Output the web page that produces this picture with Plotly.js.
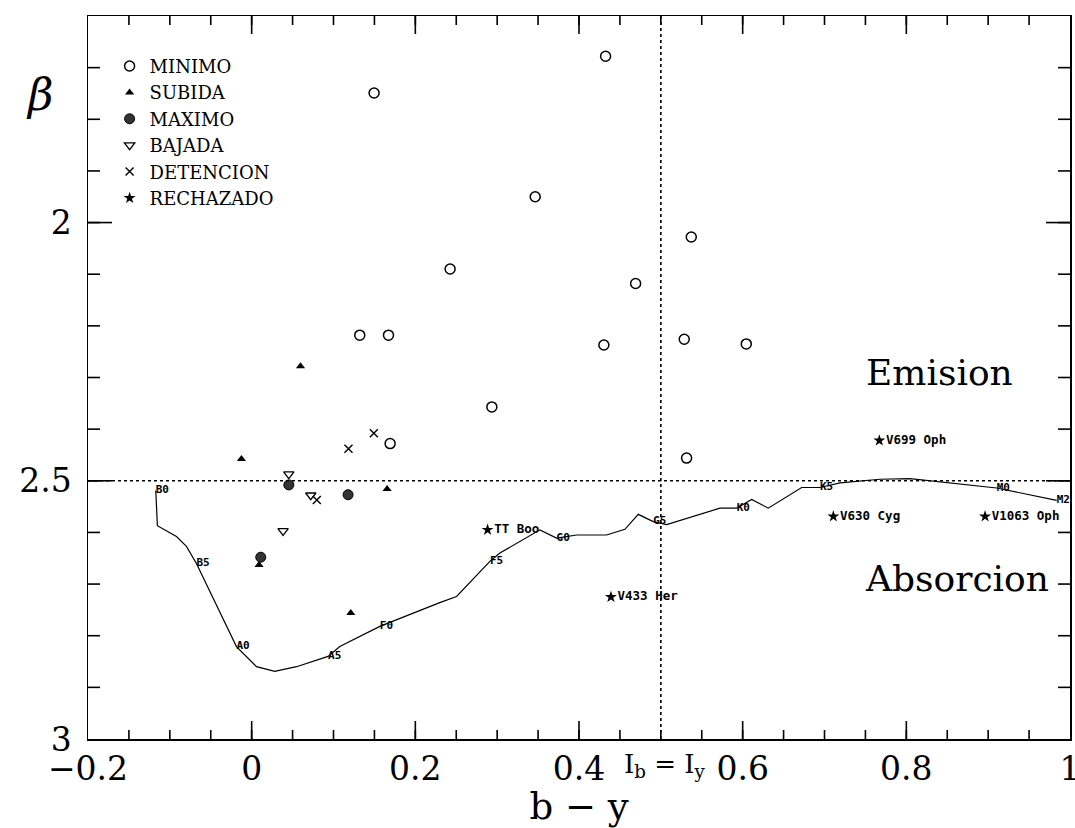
<!DOCTYPE html>
<html>
<head>
<meta charset="utf-8">
<script src="https://cdn.plot.ly/plotly-3.0.1.min.js"></script>
<style>html,body{margin:0;padding:0;background:#fff;}#chart{width:1075px;height:828px;}</style>
</head>
<body>
<div id="chart"></div>
<script>
// ---- data ----
const minimoX = [0.4325, 0.1496, 0.3465, 0.5372, 0.2425, 0.4692, 0.1321, 0.1672, 0.4304, 0.5286, 0.6044, 0.2935, 0.1692, 0.5315];
const minimoY = [1.678, 1.749, 1.950, 2.028, 2.090, 2.118, 2.218, 2.218, 2.237, 2.226, 2.235, 2.357, 2.428, 2.456];

const subidaX = [0.0597, -0.0125, 0.1655, 0.1211, 0.0090];
const subidaY = [2.278, 2.458, 2.516, 2.756, 2.663];

const maximoX = [0.0454, 0.1178, 0.0111];
const maximoY = [2.508, 2.527, 2.648];

const bajadaX = [0.0454, 0.0722, 0.0384];
const bajadaY = [2.487, 2.528, 2.597];

const detencionX = [0.1183, 0.1493, 0.0796];
const detencionY = [2.438, 2.408, 2.537];

const rechazadoName = ["TT Boo", "V433 Her", "V699 Oph", "V630 Cyg", "V1063 Oph"];
const rechazadoX = [0.2883, 0.4390, 0.7670, 0.7108, 0.8962];
const rechazadoY = [2.595, 2.725, 2.422, 2.569, 2.569];

// main-sequence calibration curve (b-y, beta) with spectral-type labels
const curveX = [-0.1172, -0.1152, -0.0919, -0.0797, -0.0675, -0.0186, 0.0059, 0.0282, 0.0548, 0.0934, 0.1077, 0.1566, 0.2299, 0.2504, 0.2911, 0.3033, 0.3522, 0.3726, 0.3971, 0.4337, 0.4561, 0.4724, 0.4907, 0.5071, 0.5722, 0.5927, 0.6110, 0.6313, 0.6721, 0.6945, 0.7190, 0.7678, 0.8045, 0.9105, 0.9838];
const curveY = [2.519, 2.587, 2.608, 2.627, 2.660, 2.821, 2.860, 2.869, 2.860, 2.840, 2.821, 2.782, 2.736, 2.724, 2.656, 2.640, 2.595, 2.611, 2.605, 2.605, 2.594, 2.565, 2.579, 2.585, 2.553, 2.553, 2.536, 2.553, 2.513, 2.513, 2.504, 2.497, 2.496, 2.514, 2.538];
const curveLabel = ["B0", "", "", "", "B5", "A0", "", "", "", "A5", "", "F0", "", "", "F5", "", "", "G0", "", "", "", "", "G5", "", "", "K0", "", "", "", "K5", "", "", "", "M0", "M2"];

const betaLimit = 2.5;   // emission / absorption boundary
const ibIy = 0.5;        // I_b = I_y

const xTickStep = 0.2, xMinorStep = 0.05;
const yTickStep = 0.5, yMinorStep = 0.1;
const xRange = [-0.2, 1.0];
const yRange = [3.0, 1.6];

// ---- styling ----
const serif = "DejaVu Serif";
const mono = "DejaVu Sans Mono";
const black = "#000";
const W = 1075, H = 828;
const M = {l: 88, r: 5, t: 16, b: 89};
const plotW = W - M.l - M.r, plotH = H - M.t - M.b;
const xPerPx = (xRange[1] - xRange[0]) / plotW;
const yPerPx = (yRange[0] - yRange[1]) / plotH;

// inside ticks on all four sides of the frame, built from the tick steps
function tickValues(lo, hi, step) {
  const out = [];
  const i0 = Math.ceil(lo / step - 1e-9), i1 = Math.floor(hi / step + 1e-9);
  for (let i = i0; i <= i1; i++) {
    const v = Math.round(i * step * 1e6) / 1e6;
    if (v > lo + 1e-9 && v < hi - 1e-9) out.push(v);
  }
  return out;
}
const tickX = [], tickY = [];
[[xMinorStep, 9], [xTickStep, 18]].forEach(function (spec) {
  tickValues(xRange[0], xRange[1], spec[0]).forEach(function (v) {
    tickX.push(v, v, null, v, v, null);
    tickY.push(yRange[0], yRange[0] - spec[1] * yPerPx, null, yRange[1], yRange[1] + spec[1] * yPerPx, null);
  });
});
[[yMinorStep, 12], [yTickStep, 24]].forEach(function (spec) {
  tickValues(yRange[1], yRange[0], spec[0]).forEach(function (v) {
    tickY.push(v, v, null, v, v, null);
    tickX.push(xRange[0], xRange[0] + spec[1] * xPerPx, null, xRange[1], xRange[1] - spec[1] * xPerPx, null);
  });
});

const traces = [
  {name: "ticks", x: tickX, y: tickY, type: "scatter", mode: "lines", showlegend: false,
   hoverinfo: "skip", connectgaps: false, line: {color: black, width: 1.6}},
  {name: "MINIMO", x: minimoX, y: minimoY, type: "scatter", mode: "markers",
   marker: {symbol: "circle-open", size: 10, color: black, line: {width: 1.5, color: black}}},
  {name: "SUBIDA", x: subidaX, y: subidaY, type: "scatter", mode: "markers",
   marker: {symbol: "triangle-up", size: 8, color: black}},
  {name: "MAXIMO", x: maximoX, y: maximoY, type: "scatter", mode: "markers",
   marker: {symbol: "circle", size: 10, color: "#333", line: {width: 1, color: black}}},
  {name: "BAJADA", x: bajadaX, y: bajadaY, type: "scatter", mode: "markers",
   marker: {symbol: "triangle-down-open", size: 9, color: black, line: {width: 1.3, color: black}}},
  {name: "DETENCION", x: detencionX, y: detencionY, type: "scatter", mode: "markers",
   marker: {symbol: "x-thin-open", size: 8, color: black, line: {width: 1.4, color: black}}},
  {name: "RECHAZADO", x: rechazadoX, y: rechazadoY, type: "scatter", mode: "markers",
   marker: {symbol: "star", size: 9, color: black}},
  {name: "rechazado-labels", x: rechazadoX, y: rechazadoY, text: rechazadoName, type: "scatter",
   mode: "markers+text", textposition: "middle right", showlegend: false,
   cliponaxis: false,
   marker: {size: 9, color: "rgba(0,0,0,0)"},
   textfont: {family: mono, size: 12.5, color: black, weight: "bold"}},
  {name: "curve", x: curveX, y: curveY, text: curveLabel, type: "scatter", mode: "lines+text",
   textposition: "middle right", showlegend: false, cliponaxis: false,
   line: {color: black, width: 1.2},
   textfont: {family: mono, size: 11, color: black, weight: "bold"}}
];

const layout = {
  width: W, height: H,
  margin: M,
  paper_bgcolor: "#fff", plot_bgcolor: "#fff",
  showlegend: true,
  legend: {x: 0.022, y: 0.956, xanchor: "left", yanchor: "top",
           bgcolor: "rgba(0,0,0,0)", borderwidth: 0,
           font: {family: serif, size: 18, color: black}, tracegroupgap: 0},
  xaxis: {range: xRange, autorange: false, dtick: xTickStep, tick0: 0,
          showgrid: false, zeroline: false, showline: true, linecolor: black, linewidth: 1.5,
          mirror: true, ticks: "",
          tickfont: {family: serif, size: 33, color: black}, ticklabeloverflow: "allow",
          title: {text: "b − y", font: {family: serif, size: 37, color: black}, standoff: 16}},
  yaxis: {range: yRange, autorange: false, dtick: yTickStep, tick0: 0,
          showgrid: false, zeroline: false, showline: true, linecolor: black, linewidth: 1.5,
          mirror: true, ticks: "",
          tickfont: {family: serif, size: 33, color: black}, ticksuffix: "\u2005", ticklabeloverflow: "allow"},
  shapes: [
    {type: "line", xref: "paper", x0: 0, x1: 1, yref: "y", y0: betaLimit, y1: betaLimit,
     line: {color: black, width: 1.6, dash: "dot"}},
    {type: "line", xref: "x", x0: ibIy, x1: ibIy, yref: "paper", y0: 0, y1: 1,
     line: {color: black, width: 1.6, dash: "dot"}}
  ],
  annotations: [
    {text: "β", xref: "paper", yref: "paper", x: -0.049, y: 0.891, xanchor: "center", yanchor: "middle",
     showarrow: false, font: {family: serif, size: 44, color: black, style: "italic"}},
    {text: "Emision", xref: "x", yref: "y", x: 0.841, y: 2.291, xanchor: "center", yanchor: "middle",
     showarrow: false, font: {family: serif, size: 36, color: black}},
    {text: "Absorcion", xref: "x", yref: "y", x: 0.862, y: 2.690, xanchor: "center", yanchor: "middle",
     showarrow: false, font: {family: serif, size: 36, color: black}},
    {text: "I<sub>b</sub> = I<sub>y</sub>", xref: "x", yref: "paper", x: ibIy, xshift: 4, y: -0.036,
     xanchor: "center", yanchor: "middle", showarrow: false, font: {family: serif, size: 26, color: black}}
  ]
};

Plotly.newPlot("chart", traces, layout, {staticPlot: true, displayModeBar: false});
</script>
</body>
</html>
